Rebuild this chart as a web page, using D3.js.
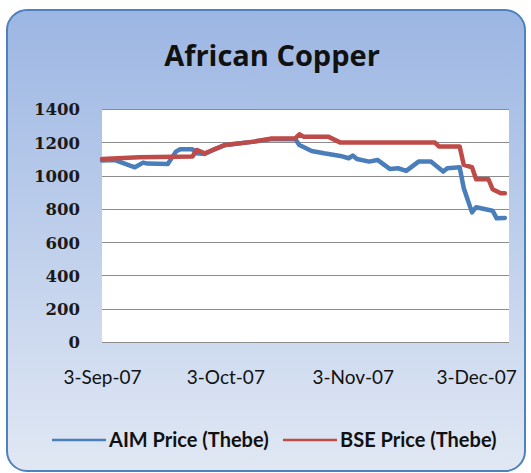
<!DOCTYPE html>
<html>
  <head>
    <script src="https://d3js.org/d3.v7.min.js"></script>
    <style>
      body { margin: 0; background: #fff; }
    </style>
  </head>
  <body>
    <svg id="chart" width="531" height="473"></svg>
    <script>
      // data
      var aimDates = ["2007-09-03","2007-09-06","2007-09-10","2007-09-11","2007-09-13","2007-09-14",
        "2007-09-19","2007-09-21","2007-09-22","2007-09-25","2007-09-26","2007-09-28","2007-09-30",
        "2007-10-03","2007-10-10","2007-10-14","2007-10-20","2007-10-21","2007-10-24","2007-10-27",
        "2007-10-31","2007-11-02","2007-11-03","2007-11-04","2007-11-07","2007-11-09","2007-11-12",
        "2007-11-14","2007-11-16","2007-11-19","2007-11-22","2007-11-25","2007-11-26","2007-11-29",
        "2007-11-30","2007-12-02","2007-12-03","2007-12-07","2007-12-08","2007-12-10"];
      var aimValues = [1090,1094,1058,1050,1078,1072,
        1070,1144,1158,1158,1134,1130,1154,
        1184,1204,1218,1220,1184,1148,1134,
        1118,1104,1120,1100,1084,1094,1040,
        1044,1028,1084,1084,1024,1044,1050,
        924,779,810,789,743,745];

      var bseDates = ["2007-09-03","2007-09-12","2007-09-25","2007-09-26","2007-09-28","2007-10-03",
        "2007-10-10","2007-10-14","2007-10-20","2007-10-21","2007-10-22","2007-10-28","2007-10-31",
        "2007-11-23","2007-11-24","2007-11-29","2007-11-30","2007-12-02","2007-12-03","2007-12-06",
        "2007-12-07","2007-12-09","2007-12-10"];
      var bseValues = [1100,1110,1115,1154,1134,1184,
        1204,1222,1224,1248,1234,1234,1198,
        1198,1174,1174,1064,1050,978,978,
        918,894,894];

      var yTicks = [0,200,400,600,800,1000,1200,1400];
      var xTicks = ["2007-09-03","2007-10-03","2007-11-03","2007-12-03"];
      var seriesNames = ["AIM Price (Thebe)","BSE Price (Thebe)"];
      var seriesColors = ["#4a7ebb","#be4b48"];

      function draw() {
        var parse = d3.timeParse("%Y-%m-%d");
        var fmt = d3.timeFormat("%-d-%b-%y");

        var svg = d3.select("#chart");

        var defs = svg.append("defs");
        var grad = defs.append("linearGradient").attr("id","bg")
          .attr("x1",0).attr("y1",0).attr("x2",0).attr("y2",1);
        grad.append("stop").attr("offset","0%").attr("stop-color","#9cb6e3");
        grad.append("stop").attr("offset","55%").attr("stop-color","#c2d2ec");
        grad.append("stop").attr("offset","100%").attr("stop-color","#e1e8f4");

        svg.append("rect")
          .attr("x",7).attr("y",10).attr("width",518).attr("height",461)
          .attr("rx",20).attr("ry",20)
          .attr("fill","url(#bg)")
          .attr("stroke","#4f81bd").attr("stroke-width",2);

        svg.append("text")
          .attr("x",272).attr("y",66)
          .attr("text-anchor","middle")
          .style("font-family","'Open Sans', Lato, sans-serif")
          .style("font-weight","bold")
          .style("font-size","29px")
          .style("fill","#111")
          .text("African Copper");

        var pLeft = 102, pRight = 509, pTop = 109, pBottom = 342;

        var x = d3.scaleTime()
          .domain([parse("2007-09-03"), parse("2007-12-11")])
          .range([pLeft, pRight]);
        var y = d3.scaleLinear().domain([0,1400]).range([pBottom, pTop]);

        svg.append("rect")
          .attr("x",pLeft).attr("y",pTop)
          .attr("width",pRight-pLeft).attr("height",pBottom-pTop)
          .attr("fill","#fff");

        // gridlines
        svg.append("g")
          .selectAll("line")
          .data(yTicks)
          .enter()
          .append("line")
          .attr("x1",pLeft).attr("x2",pRight)
          .attr("y1",d => Math.round(y(d))+0.5).attr("y2",d => Math.round(y(d))+0.5)
          .style("stroke","#8c8c8c").style("stroke-width",1);

        var yAxis = svg.append("g")
          .attr("transform","translate(" + (pLeft-22) + ",0)")
          .call(d3.axisLeft(y).tickValues(yTicks).tickFormat(d3.format("d")).tickSize(0).tickPadding(0));
        yAxis.select(".domain").remove();
        yAxis.selectAll("text")
          .attr("dy","0.36em")
          .style("font-family","'DejaVu Serif', serif")
          .style("font-weight","bold")
          .style("font-size","16.5px")
          .style("fill","#1a1a1a");

        var xAxis = svg.append("g")
          .attr("transform","translate(0," + pBottom + ")")
          .call(d3.axisBottom(x).tickValues(xTicks.map(parse)).tickFormat(fmt).tickSize(0).tickPadding(35));
        xAxis.select(".domain").remove();
        xAxis.selectAll("text")
          .attr("dy","0.36em")
          .style("font-family","Lato, 'Open Sans', sans-serif")
          .style("font-size","19px")
          .style("fill","#111");

        var line = d3.line()
          .x(d => x(d.date))
          .y(d => y(d.value));

        var aim = aimDates.map((d,i) => ({date: parse(d), value: aimValues[i]}));
        var bse = bseDates.map((d,i) => ({date: parse(d), value: bseValues[i]}));

        [aim, bse].forEach(function(series, i){
          svg.append("path")
            .datum(series)
            .attr("d", line)
            .attr("fill","none")
            .attr("stroke", seriesColors[i])
            .attr("stroke-width",4.5)
            .attr("stroke-linejoin","round")
            .attr("stroke-linecap","round");
        });

        // legend
        var legendX = [52, 283];
        var legend = svg.append("g")
          .selectAll("g")
          .data(seriesNames)
          .enter()
          .append("g")
          .attr("transform",(d,i) => "translate(" + legendX[i] + ",440)");
        legend.append("line")
          .attr("x1",0).attr("x2",54)
          .attr("y1",0).attr("y2",0)
          .style("stroke",(d,i) => seriesColors[i])
          .style("stroke-width",2.5);
        legend.append("text")
          .attr("x",57).attr("y",0)
          .attr("dy","0.36em")
          .style("font-family","Lato, 'Open Sans', sans-serif")
          .style("font-weight","bold")
          .style("font-size","20px")
          .style("fill","#111")
          .text(d => d);
      }
      draw();
    </script>
  </body>
</html>
